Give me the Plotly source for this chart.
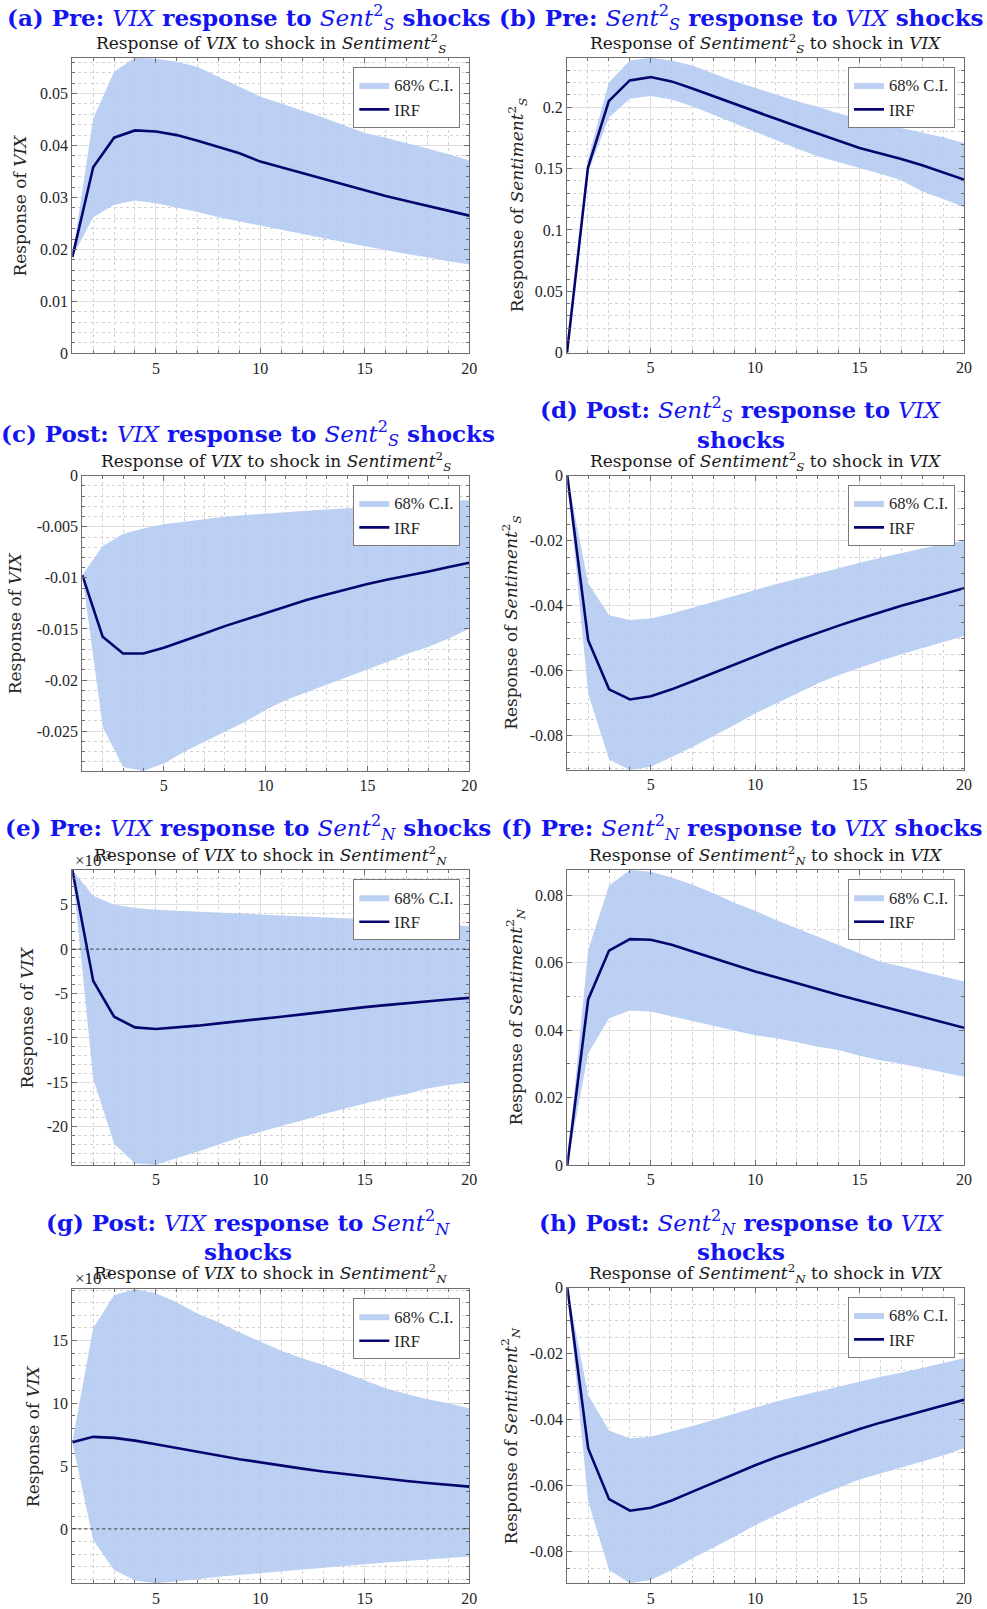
import plotly.graph_objects as go

# ---------------- data ----------------
horizon = [1, 2, 3, 4, 5, 6, 7, 8, 9, 10, 11, 12, 13, 14, 15, 16, 17, 18, 19, 20]

# (a) Pre: VIX response to Sent_S^2 shocks
irf_a = [0.0185, 0.0358, 0.0415, 0.0429, 0.0427, 0.0420, 0.0409, 0.0397, 0.0385, 0.0369,
         0.0358, 0.0347, 0.0336, 0.0324, 0.0313, 0.0303, 0.0293, 0.0284, 0.0274, 0.0265]
hi_a = [0.0185, 0.0452, 0.0542, 0.0569, 0.0567, 0.0561, 0.0551, 0.0532, 0.0514, 0.0494,
        0.0481, 0.0468, 0.0454, 0.0439, 0.0424, 0.0415, 0.0405, 0.0394, 0.0383, 0.0371]
lo_a = [0.0185, 0.0262, 0.0286, 0.0294, 0.0289, 0.0281, 0.0272, 0.0262, 0.0254, 0.0246,
        0.0237, 0.0230, 0.0222, 0.0214, 0.0206, 0.0199, 0.0191, 0.0185, 0.0177, 0.0171]

# (b) Pre: Sent_S^2 response to VIX shocks
irf_b = [0.0, 0.1505, 0.2049, 0.2218, 0.2245, 0.2210, 0.2152, 0.2090, 0.2027, 0.1962,
         0.1905, 0.1845, 0.1785, 0.1725, 0.1668, 0.1622, 0.1578, 0.1527, 0.1469, 0.1410]
hi_b = [0.0, 0.1573, 0.2199, 0.2381, 0.2403, 0.2381, 0.2340, 0.2275, 0.2212, 0.2158,
        0.2103, 0.2049, 0.2003, 0.1948, 0.1905, 0.1867, 0.1831, 0.1796, 0.1755, 0.1709]
lo_b = [0.0, 0.1464, 0.1913, 0.2068, 0.2090, 0.2063, 0.2008, 0.1940, 0.1872, 0.1799,
        0.1731, 0.1663, 0.1600, 0.1554, 0.1505, 0.1458, 0.1404, 0.1314, 0.1252, 0.1186]

# (c) Post: VIX response to Sent_S^2 shocks
irf_c = [-0.00973, -0.01576, -0.0174, -0.0174, -0.01684, -0.01616, -0.01544, -0.01472, -0.01407, -0.01341,
         -0.01276, -0.01217, -0.01162, -0.0111, -0.01061, -0.01015, -0.00979, -0.00937, -0.00894, -0.00852]
hi_c = [-0.00973, -0.00689, -0.00571, -0.00516, -0.00476, -0.0045, -0.00424, -0.00401, -0.00385, -0.00369,
        -0.00356, -0.00343, -0.0033, -0.0032, -0.00313, -0.00297, -0.00271, -0.00258, -0.00248, -0.00238]
lo_c = [-0.00973, -0.02457, -0.0285, -0.0289, -0.02817, -0.02702, -0.02604, -0.02506, -0.02408, -0.02294,
        -0.02196, -0.02115, -0.0204, -0.01968, -0.01896, -0.01821, -0.0174, -0.01674, -0.01593, -0.01495]

# (d) Post: Sent_S^2 response to VIX shocks
irf_d = [0.0, -0.0506, -0.0657, -0.0688, -0.0678, -0.0657, -0.0632, -0.0606, -0.0580, -0.0555,
         -0.0530, -0.0506, -0.0483, -0.0461, -0.0440, -0.0419, -0.0400, -0.0382, -0.0364, -0.0346]
hi_d = [0.0, -0.0331, -0.0429, -0.0444, -0.0439, -0.0424, -0.0406, -0.0388, -0.0369, -0.0350,
        -0.0333, -0.0318, -0.0301, -0.0283, -0.0268, -0.0252, -0.0237, -0.0224, -0.0211, -0.0201]
lo_d = [0.0, -0.0670, -0.0873, -0.0905, -0.0895, -0.0865, -0.0834, -0.0801, -0.0767, -0.0731,
        -0.0700, -0.0670, -0.0639, -0.0613, -0.0590, -0.0569, -0.0549, -0.0531, -0.0511, -0.0493]

# (e) Pre: VIX response to Sent_N^2 shocks  (values in units of 10^-3)
irf_e = [8.9, -3.58, -7.61, -8.81, -8.99, -8.84, -8.62, -8.36, -8.13, -7.87,
         -7.61, -7.35, -7.05, -6.79, -6.53, -6.31, -6.08, -5.86, -5.67, -5.49]
hi_e = [8.9, 6.0, 5.0, 4.63, 4.44, 4.33, 4.18, 4.07, 3.96, 3.84,
        3.77, 3.69, 3.58, 3.47, 3.40, 3.28, 3.13, 2.95, 2.76, 2.57]
lo_e = [8.9, -14.6, -21.9, -24.1, -24.3, -23.5, -22.8, -22.0, -21.2, -20.6,
        -19.9, -19.3, -18.6, -18.0, -17.4, -16.8, -16.3, -15.7, -15.3, -15.0]

# (f) Pre: Sent_N^2 response to VIX shocks
irf_f = [0.0, 0.0491, 0.0636, 0.0670, 0.0668, 0.0653, 0.0633, 0.0613, 0.0593, 0.0574,
         0.0557, 0.0539, 0.0521, 0.0504, 0.0488, 0.0472, 0.0457, 0.0440, 0.0423, 0.0407]
hi_f = [0.0, 0.0638, 0.0829, 0.0875, 0.0870, 0.0853, 0.0831, 0.0806, 0.0778, 0.0754,
        0.0727, 0.0702, 0.0677, 0.0653, 0.0628, 0.0603, 0.0589, 0.0574, 0.0561, 0.0544]
lo_f = [0.0, 0.0331, 0.0435, 0.0458, 0.0455, 0.0442, 0.0428, 0.0413, 0.0399, 0.0385,
        0.0376, 0.0364, 0.0351, 0.0341, 0.0324, 0.0311, 0.0300, 0.0287, 0.0275, 0.0262]

# (g) Post: VIX response to Sent_N^2 shocks  (values in units of 10^-3)
irf_g = [6.90, 7.33, 7.25, 7.03, 6.74, 6.42, 6.13, 5.84, 5.55, 5.28,
         5.04, 4.80, 4.57, 4.38, 4.17, 3.98, 3.82, 3.66, 3.50, 3.37]
hi_g = [6.90, 16.0, 18.6, 19.1, 18.77, 18.05, 17.12, 16.46, 15.64, 14.92,
        14.18, 13.59, 13.06, 12.45, 11.81, 11.20, 10.75, 10.33, 10.01, 9.61]
lo_g = [6.90, -0.88, -3.27, -4.11, -4.33, -4.19, -4.01, -3.80, -3.61, -3.48,
        -3.34, -3.21, -3.08, -2.95, -2.81, -2.68, -2.55, -2.42, -2.31, -2.20]

# (h) Post: Sent_N^2 response to VIX shocks
irf_h = [0.0, -0.0487, -0.0641, -0.0676, -0.0667, -0.0645, -0.0618, -0.0591, -0.0565, -0.0538,
         -0.0514, -0.0492, -0.0470, -0.0448, -0.0428, -0.0409, -0.0391, -0.0374, -0.0357, -0.0340]
hi_h = [0.0, -0.0325, -0.0433, -0.0457, -0.0452, -0.0436, -0.0419, -0.0401, -0.0383, -0.0364,
        -0.0345, -0.0330, -0.0315, -0.0300, -0.0283, -0.0270, -0.0258, -0.0244, -0.0229, -0.0214]
lo_h = [0.0, -0.0648, -0.0856, -0.0896, -0.0886, -0.0856, -0.0820, -0.0787, -0.0755, -0.0720,
        -0.0689, -0.0659, -0.0631, -0.0605, -0.0581, -0.0563, -0.0544, -0.0527, -0.0509, -0.0487]

# tick labels
xtick_vals = [5, 10, 15, 20]
xtick_text = ["5", "10", "15", "20"]
ytick_vals_a = [0, 0.01, 0.02, 0.03, 0.04, 0.05]
ytick_text_a = ["0", "0.01", "0.02", "0.03", "0.04", "0.05"]
ytick_vals_b = [0, 0.05, 0.1, 0.15, 0.2]
ytick_text_b = ["0", "0.05", "0.1", "0.15", "0.2"]
ytick_vals_c = [0, -0.005, -0.01, -0.015, -0.02, -0.025]
ytick_text_c = ["0", "-0.005", "-0.01", "-0.015", "-0.02", "-0.025"]
ytick_vals_d = [0, -0.02, -0.04, -0.06, -0.08]
ytick_text_d = ["0", "-0.02", "-0.04", "-0.06", "-0.08"]
ytick_vals_e = [5, 0, -5, -10, -15, -20]
ytick_text_e = ["5", "0", "-5", "-10", "-15", "-20"]
ytick_vals_f = [0, 0.02, 0.04, 0.06, 0.08]
ytick_text_f = ["0", "0.02", "0.04", "0.06", "0.08"]
ytick_vals_g = [0, 5, 10, 15]
ytick_text_g = ["0", "5", "10", "15"]
ytick_vals_h = [0, -0.02, -0.04, -0.06, -0.08]
ytick_text_h = ["0", "-0.02", "-0.04", "-0.06", "-0.08"]

VIX = "<i>VIX</i>"
SENT_S = "<i>Sent</i><sup>2</sup><sub><i>S</i></sub>"
SENT_N = "<i>Sent</i><sup>2</sup><sub><i>N</i></sub>"
SENTI_S = "<i>Sentiment</i><sup>2</sup><sub><i>S</i></sub>"
SENTI_N = "<i>Sentiment</i><sup>2</sup><sub><i>N</i></sub>"

# main titles: (first line, second line or None)
main_titles = [
    ("<b>(a) Pre: </b>" + VIX + "<b> response to </b>" + SENT_S + "<b> shocks</b>", None),
    ("<b>(b) Pre: </b>" + SENT_S + "<b> response to </b>" + VIX + "<b> shocks</b>", None),
    ("<b>(c) Post: </b>" + VIX + "<b> response to </b>" + SENT_S + "<b> shocks</b>", None),
    ("<b>(d) Post: </b>" + SENT_S + "<b> response to </b>" + VIX, "<b>shocks</b>"),
    ("<b>(e) Pre: </b>" + VIX + "<b> response to </b>" + SENT_N + "<b> shocks</b>", None),
    ("<b>(f) Pre: </b>" + SENT_N + "<b> response to </b>" + VIX + "<b> shocks</b>", None),
    ("<b>(g) Post: </b>" + VIX + "<b> response to </b>" + SENT_N, "<b>shocks</b>"),
    ("<b>(h) Post: </b>" + SENT_N + "<b> response to </b>" + VIX, "<b>shocks</b>"),
]
sub_titles = [
    "Response of " + VIX + " to shock in " + SENTI_S,
    "Response of " + SENTI_S + " to shock in " + VIX,
    "Response of " + VIX + " to shock in " + SENTI_S,
    "Response of " + SENTI_S + " to shock in " + VIX,
    "Response of " + VIX + " to shock in " + SENTI_N,
    "Response of " + SENTI_N + " to shock in " + VIX,
    "Response of " + VIX + " to shock in " + SENTI_N,
    "Response of " + SENTI_N + " to shock in " + VIX,
]
y_titles = [
    "Response of " + VIX, "Response of " + SENTI_S,
    "Response of " + VIX, "Response of " + SENTI_S,
    "Response of " + VIX, "Response of " + SENTI_N,
    "Response of " + VIX, "Response of " + SENTI_N,
]
ci_label = "68% C.I."
irf_label = "IRF"
exp_label = "×10<sup>-3</sup>"

# ---------------- layout config (pixels) ----------------
W, H = 987, 1609
boxes = [  # left, right, top, bottom of each plot area
    (72.3, 469.3, 57.7, 353.3),
    (567.0, 964.0, 57.7, 352.7),
    (82.3, 469.3, 475.7, 771.0),
    (567.3, 964.0, 475.7, 770.0),
    (72.3, 469.3, 870.0, 1165.0),
    (567.3, 964.0, 870.0, 1165.0),
    (72.3, 469.3, 1289.0, 1583.3),
    (567.3, 964.0, 1287.7, 1583.3),
]
title_y1 = [17, 17, 433, 409, 827, 827, 1222, 1222]
title_y2 = [None, None, None, 439, None, None, 1251, 1251]
title_x = [248, 741, 248, 741, 248, 741, 248, 741]
sub_y = [43, 43, 461, 461, 855, 855, 1273, 1273]
ylab_x = [20, 517, 15, 512, 27, 516, 33, 511]
minor_dt = [0.002, 0.01, 0.001, 0.005, 1, 0.01, 1, 0.005]
show_zero = [False, False, False, False, True, False, True, False]
exp_y = [None, None, None, None, 859, None, 1277, None]

irfs = [irf_a, irf_b, irf_c, irf_d, irf_e, irf_f, irf_g, irf_h]
his = [hi_a, hi_b, hi_c, hi_d, hi_e, hi_f, hi_g, hi_h]
los = [lo_a, lo_b, lo_c, lo_d, lo_e, lo_f, lo_g, lo_h]
yvals = [ytick_vals_a, ytick_vals_b, ytick_vals_c, ytick_vals_d,
         ytick_vals_e, ytick_vals_f, ytick_vals_g, ytick_vals_h]
ytexts = [ytick_text_a, ytick_text_b, ytick_text_c, ytick_text_d,
          ytick_text_e, ytick_text_f, ytick_text_g, ytick_text_h]

SERIF = "Liberation Serif, Times New Roman, serif"
WIDE_SERIF = "DejaVu Serif, serif"
BAND = "rgba(177,200,242,0.86)"
LINE = "#06066e"
TITLE_BLUE = "#1414f0"
AXIS = "#6e6e6e"
TXT = "#262626"

fig = go.Figure()
annotations = []
shapes = []
layout = {}

for i in range(8):
    l, r, t, b = boxes[i]
    n = "" if i == 0 else str(i + 1)
    xa, ya = "x" + n, "y" + n
    leg = "legend" + n
    fig.add_trace(go.Scatter(
        x=horizon + horizon[::-1], y=his[i] + los[i][::-1],
        fill="toself", fillcolor=BAND, line=dict(width=0, color=BAND),
        mode="lines", name=ci_label, xaxis=xa, yaxis=ya, legend=leg,
        hoverinfo="skip"))
    fig.add_trace(go.Scatter(
        x=horizon, y=irfs[i], mode="lines", line=dict(color=LINE, width=2.6),
        name=irf_label, xaxis=xa, yaxis=ya, legend=leg))

    ymin = min(0, min(los[i]), min(irfs[i]))
    ymax = max(0, max(his[i]), max(irfs[i]))

    common = dict(showline=True, linecolor=AXIS, linewidth=1, mirror="ticks",
                  ticks="inside", ticklen=5, tickcolor=AXIS, automargin=False,
                  showgrid=True, gridcolor="#dedede", gridwidth=1, zeroline=False,
                  tickfont=dict(family=SERIF, size=16, color=TXT))
    layout["xaxis" + n] = dict(
        domain=[l / W, r / W], anchor=ya, range=[1, 20],
        tickmode="array", tickvals=xtick_vals, ticktext=xtick_text,
        minor=dict(tickmode="linear", tick0=0, dtick=1, showgrid=True,
                   gridcolor="#d2d2d2", griddash="dot", ticks="inside",
                   ticklen=3, tickcolor=AXIS),
        **common)
    layout["yaxis" + n] = dict(
        domain=[1 - b / H, 1 - t / H], anchor=xa, range=[ymin, ymax],
        tickmode="array", tickvals=yvals[i], ticktext=ytexts[i],
        minor=dict(tickmode="linear", tick0=0, dtick=minor_dt[i], showgrid=True,
                   gridcolor="#d2d2d2", griddash="dot", ticks="inside",
                   ticklen=3, tickcolor=AXIS),
        **common)
    layout[leg] = dict(
        x=(r - 9) / W, xanchor="right", y=1 - (t + 9) / H, yanchor="top",
        bgcolor="white", bordercolor="#7a7a7a", borderwidth=1,
        font=dict(family=SERIF, size=16.5, color=TXT),
        itemwidth=30, tracegroupgap=0, traceorder="normal")

    if show_zero[i]:
        shapes.append(dict(type="line", xref=xa + " domain", yref=ya,
                           x0=0, x1=1, y0=0, y1=0,
                           line=dict(color="#333333", width=1, dash="dot")))

    line1, line2 = main_titles[i]
    annotations.append(dict(
        text=line1, x=title_x[i] / W, y=1 - title_y1[i] / H,
        xref="paper", yref="paper", xanchor="center", yanchor="middle",
        showarrow=False, font=dict(family=WIDE_SERIF, size=23, color=TITLE_BLUE)))
    if line2 is not None:
        annotations.append(dict(
            text=line2, x=title_x[i] / W, y=1 - title_y2[i] / H,
            xref="paper", yref="paper", xanchor="center", yanchor="middle",
            showarrow=False, font=dict(family=WIDE_SERIF, size=23, color=TITLE_BLUE)))
    annotations.append(dict(
        text=sub_titles[i], x=(l + r) / 2 / W, y=1 - sub_y[i] / H,
        xref="paper", yref="paper", xanchor="center", yanchor="middle",
        showarrow=False, font=dict(family=WIDE_SERIF, size=17, color="#1a1a1a")))
    annotations.append(dict(
        text=y_titles[i], x=ylab_x[i] / W, y=1 - (t + b) / 2 / H,
        xref="paper", yref="paper", xanchor="center", yanchor="middle",
        textangle=-90, showarrow=False,
        font=dict(family=WIDE_SERIF, size=17, color=TXT)))
    if exp_y[i] is not None:
        annotations.append(dict(
            text=exp_label, x=(l + 1) / W, y=1 - exp_y[i] / H,
            xref="paper", yref="paper", xanchor="left", yanchor="middle",
            showarrow=False, font=dict(family=SERIF, size=17, color=TXT)))

layout.update(dict(
    width=W, height=H,
    margin=dict(l=0, r=0, t=0, b=0, pad=0, autoexpand=False),
    paper_bgcolor="white", plot_bgcolor="white",
    annotations=annotations, shapes=shapes, showlegend=True,
    font=dict(family=SERIF, color=TXT)))
fig.update_layout(**layout)
fig.write_html("out.html")
